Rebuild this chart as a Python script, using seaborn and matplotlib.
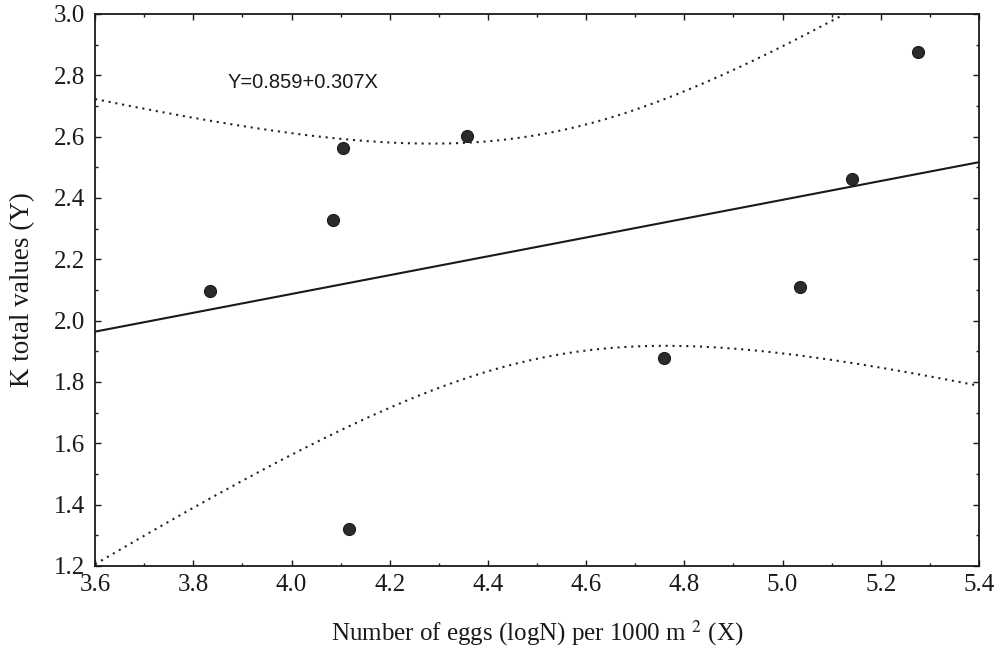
import numpy as np
import pandas as pd
import matplotlib
matplotlib.use("Agg")
import matplotlib.pyplot as plt
import seaborn as sns
from matplotlib.ticker import MultipleLocator

# ---- data ----
x_eggs = [3.835, 4.084, 4.104, 4.117, 4.357, 4.759, 5.036, 5.141, 5.276]
k_total = [2.098, 2.328, 2.563, 1.321, 2.603, 1.879, 2.111, 2.461, 2.877]
intercept = 0.859
slope = 0.307
t_crit = 2.365  # t(0.975, df=7)
equation_text = "Y=0.859+0.307X"
x_ticks = [3.6, 3.8, 4.0, 4.2, 4.4, 4.6, 4.8, 5.0, 5.2, 5.4]
y_ticks = [1.2, 1.4, 1.6, 1.8, 2.0, 2.2, 2.4, 2.6, 2.8, 3.0]

sns.set_style("ticks")
plt.rcParams["font.family"] = ["Liberation Serif", "DejaVu Serif"]
plt.rcParams["mathtext.fontset"] = "stix"

df = pd.DataFrame({"x": x_eggs, "y": k_total})

# regression line and 95% confidence band for the mean
xs = np.linspace(x_ticks[0], x_ticks[-1], 300)
yhat = intercept + slope * xs
xa = np.array(x_eggs)
ya = np.array(k_total)
resid = ya - (intercept + slope * xa)
n = len(xa)
s = np.sqrt(np.sum(resid ** 2) / (n - 2))
sxx = np.sum((xa - xa.mean()) ** 2)
half = t_crit * s * np.sqrt(1.0 / n + (xs - xa.mean()) ** 2 / sxx)
band = pd.DataFrame({"x": xs, "fit": yhat, "lo": yhat - half, "hi": yhat + half})

fig = plt.figure(figsize=(10.01, 6.54), dpi=100)
ax = fig.add_axes([0.095, 0.1346, 0.883, 0.844])

sns.lineplot(data=band, x="x", y="fit", ax=ax, color="#1a1a1a", lw=1.5, sort=False)
sns.lineplot(data=band, x="x", y="hi", ax=ax, color="#222222", lw=1.5,
             linestyle=(0, (1, 2.3)), sort=False)
sns.lineplot(data=band, x="x", y="lo", ax=ax, color="#222222", lw=1.5,
             linestyle=(0, (1, 2.3)), sort=False)
sns.scatterplot(data=df, x="x", y="y", ax=ax, color="#2b2b2b", s=75,
                edgecolor="#1a1a1a", linewidth=0.8, zorder=5)

ax.set_xlim(x_ticks[0], x_ticks[-1])
ax.set_ylim(y_ticks[0], y_ticks[-1])
ax.set_xticks(x_ticks)
ax.set_yticks(y_ticks)
ax.set_xticklabels([f"{v:.1f}" for v in x_ticks])
ax.set_yticklabels([f"{v:.1f}" for v in y_ticks])
ax.xaxis.set_minor_locator(MultipleLocator(0.1))
ax.yaxis.set_minor_locator(MultipleLocator(0.1))
ax.tick_params(which="both", direction="in", top=True, right=True,
               labelsize=18, colors="#1a1a1a", width=1)
ax.tick_params(which="major", length=4)
ax.tick_params(axis="x", which="major", pad=6)
ax.tick_params(axis="y", which="major", pad=7)
ax.tick_params(which="minor", length=2.5)
for sp in ax.spines.values():
    sp.set_visible(True)
    sp.set_linewidth(1.3)
    sp.set_color("#1a1a1a")

ax.set_xlabel("Number of eggs (logN) per 1000 m $^{2}$ (X)", fontsize=18,
              labelpad=16, color="#1a1a1a")
ax.set_ylabel("K total values (Y)", fontsize=19.5, labelpad=14, color="#1a1a1a")

ax.text(3.87, 2.778, equation_text, fontsize=14.5, va="center", ha="left",
        family=["Liberation Sans", "DejaVu Sans"], color="#1a1a1a")

fig.savefig("out.png", dpi=100)
